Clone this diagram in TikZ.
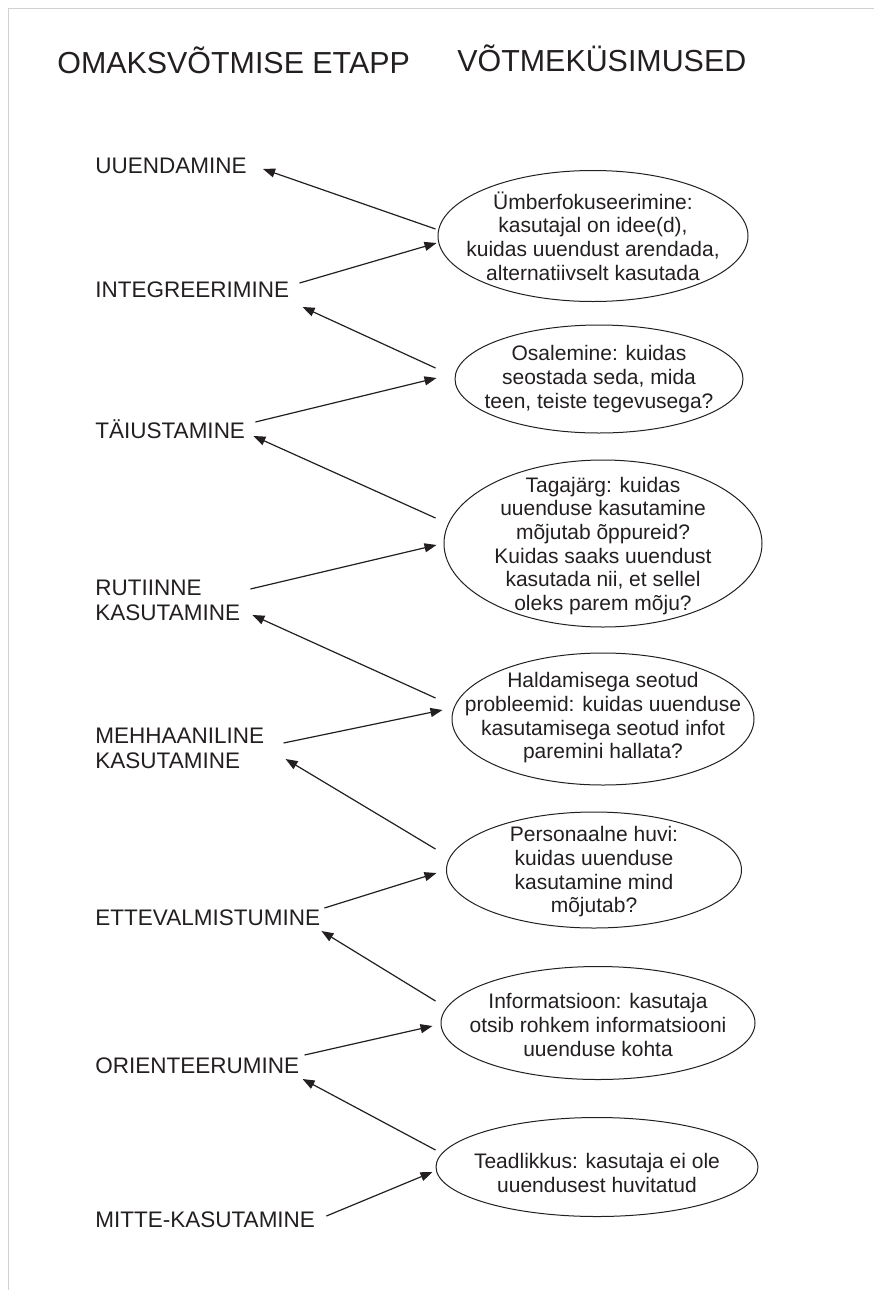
\documentclass[tikz,border=0pt]{standalone}
\usepackage{fontspec}
\setmainfont{Liberation Sans}
\usepackage{xcolor}
\usepackage{tikz}
\usetikzlibrary{arrows.meta, positioning, calc, shapes.geometric}
\definecolor{ink}{HTML}{231F20}

\begin{document}
\begin{tikzpicture}[
    x=0.5pt, y=-0.5pt,
    title/.style={anchor=base west, inner sep=0pt, font=\fontsize{15.2}{18}\selectfont, text=ink},
    etapp/.style={inner sep=0pt, align=left, font=\fontsize{11.25}{12.5}\selectfont, text=ink},
    kysimus/.style={ellipse, draw=ink, line width=0.5pt, inner sep=0pt},
    kysitekst/.style={inner sep=0pt, align=center, font=\fontsize{10.5}{11.85}\selectfont, text=ink},
    arrow/.style={-{Triangle[length=6pt, width=4.5pt]}, line width=0.6pt, draw=ink}
  ]
    \useasboundingbox (0,0) rectangle (874,1290);
    \draw[black!18, line width=0.5pt] (8,1290) -- (8,8) -- (874,8);

    \node[title] (etapid) at (57,73) {OMAKSVÕTMISE ETAPP};
    \node[title] (kysimused) at (457,71) {VÕTMEKÜSIMUSED};

    % etapid
    \node[etapp, anchor=base west] (uuendamine) at (95,173) {UUENDAMINE};
    \node[etapp, anchor=base west] (integreerimine) at (95,297) {INTEGREERIMINE};
    \node[etapp, anchor=base west] (taiustamine) at (95,438) {TÄIUSTAMINE};
    \node[etapp, anchor=north west] (rutiinne) at (95,580) {RUTIINNE\\KASUTAMINE};
    \node[etapp, anchor=north west] (mehhaaniline) at (95,728) {MEHHAANILINE\\KASUTAMINE};
    \node[etapp, anchor=base west] (ettevalmistumine) at (95,925) {ETTEVALMISTUMINE};
    \node[etapp, anchor=base west] (orienteerumine) at (95,1073) {ORIENTEERUMINE};
    \node[etapp, anchor=base west] (mittekasutamine) at (95,1227) {MITTE-KASUTAMINE};

    % küsimused
    \node[kysimus, minimum width=155pt, minimum height=65.5pt] (e1) at (593,236) {};
    \node[kysitekst] (t1) at (e1) {Ümberfokuseerimine:\\kasutajal on idee(d),\\kuidas uuendust arendada,\\alternatiivselt kasutada};
    \node[kysimus, minimum width=144pt, minimum height=54pt] (e2) at (599,379) {};
    \node[kysitekst] (t2) at (e2) {Osalemine: kuidas\\seostada seda, mida\\teen, teiste tegevusega?};
    \node[kysimus, minimum width=159pt, minimum height=83.5pt] (e3) at (603,543.5) {};
    \node[kysitekst] (t3) at ($(e3)+(0,2.5)$) {Tagajärg: kuidas\\uuenduse kasutamine\\mõjutab õppureid?\\Kuidas saaks uuendust\\kasutada nii, et sellel\\oleks parem mõju?};
    \node[kysimus, minimum width=151pt, minimum height=66pt] (e4) at (603,719) {};
    \node[kysitekst] (t4) at ($(e4)+(0,-1)$) {Haldamisega seotud\\probleemid: kuidas uuenduse\\kasutamisega seotud infot\\paremini hallata?};
    \node[kysimus, minimum width=147.5pt, minimum height=58pt] (e5) at (594,870) {};
    \node[kysitekst] (t5) at ($(e5)+(0,2)$) {Personaalne huvi:\\kuidas uuenduse\\kasutamine mind\\mõjutab?};
    \node[kysimus, minimum width=157pt, minimum height=56.5pt] (e6) at (598,1023) {};
    \node[kysitekst] (t6) at ($(e6)+(0,2)$) {Informatsioon: kasutaja\\otsib rohkem informatsiooni\\uuenduse kohta};
    \node[kysimus, minimum width=161pt, minimum height=49.5pt] (e7) at (597,1167) {};
    \node[kysitekst] (t7) at ($(e7)+(0,6)$) {Teadlikkus: kasutaja ei ole\\uuendusest huvitatud};

    % nooled
    \draw[arrow] ($(e1.west)+(-2,-7)$) -- ($(uuendamine.base east)+(16,-4)$);
    \draw[arrow] ($(integreerimine.base east)+(10,-14)$) -- ($(e1.west)+(-1,7)$);
    \draw[arrow] ($(e2.west)+(-19,-11)$) -- ($(integreerimine.base east)+(13,10)$);
    \draw[arrow] ($(taiustamine.base east)+(10,-16)$) -- ($(e2.west)+(-18,-1)$);
    \draw[arrow] ($(e3.west)+(-8,-25.5)$) -- ($(taiustamine.base east)+(8,-2)$);
    \draw[arrow] ($(rutiinne.north east)+(10,9)$) -- ($(e3.west)+(-7,1.5)$);
    \draw[arrow] ($(e4.west)+(-16,-21)$) -- ($(rutiinne.north east)+(12,35)$);
    \draw[arrow] ($(mehhaaniline.north east)+(19,15)$) -- ($(e4.west)+(-9,-9)$);
    \draw[arrow] ($(e5.west)+(-10.5,-21)$) -- ($(mehhaaniline.north east)+(21,31)$);
    \draw[arrow] ($(ettevalmistumine.base east)+(4,-17)$) -- ($(e5.west)+(-9.5,3)$);
    \draw[arrow] ($(e6.west)+(-5,-22)$) -- ($(ettevalmistumine.base east)+(1,6)$);
    \draw[arrow] ($(orienteerumine.base east)+(5,-18)$) -- ($(e6.west)+(-8,3)$);
    \draw[arrow] ($(e7.west)+(0,-17)$) -- ($(orienteerumine.base east)+(3,6)$);
    \draw[arrow] ($(mittekasutamine.base east)+(11,-11)$) -- ($(e7.west)+(-3,5)$);
  \end{tikzpicture}
\end{document}
